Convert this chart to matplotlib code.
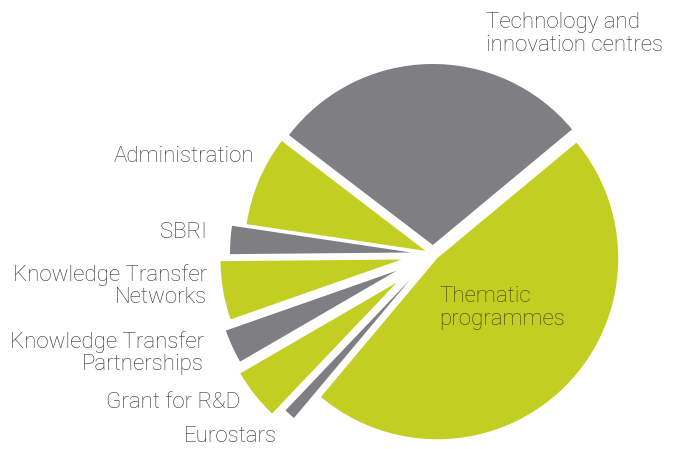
import matplotlib
matplotlib.use("Agg")
from matplotlib import pyplot as plt

labels = ["Thematic programmes", "Technology and innovation centres", "Administration", "SBRI",
          "Knowledge Transfer Networks", "Knowledge Transfer Partnerships", "Grant for R&D", "Eurostars"]
shares = [47.0, 28.5, 8.0, 2.5, 5.2, 3.0, 4.5, 1.0]
explode_px = [6, 9, 8, 22, 32, 40, 46, 34]

GREEN = "#c2cf22"
GREY = "#7f7e83"
colors = [GREEN, GREY, GREEN, GREY, GREEN, GREY, GREEN, GREY]

W, H = 676, 449
radius = 181
cx, cy = 433, H - 254

plt.rcParams["font.family"] = ["Roboto", "DejaVu Sans"]

fig = plt.figure(figsize=(W / 100, H / 100), dpi=100)
ax = fig.add_axes([0, 0, 1, 1])

# explode in pie() is in data units, here pixels
ax.pie(shares, colors=colors, startangle=-130, counterclock=True,
       radius=radius, center=(cx, cy), explode=explode_px,
       wedgeprops=dict(linewidth=0), frame=True)
ax.set_xlim(0, W)
ax.set_ylim(0, H)
ax.set_aspect("equal")
ax.axis("off")

txt = dict(fontsize=16, color="#333333", fontweight="light", linespacing=1.1)
ax.text(486, H - 34, "Technology and\ninnovation centres", ha="left", va="center", **txt)
ax.text(254, H - 157, "Administration", ha="right", va="center", **txt)
ax.text(207, H - 232, "SBRI", ha="right", va="center", **txt)
ax.text(207, H - 286, "Knowledge Transfer\nNetworks", ha="right", va="center", **txt)
ax.text(204, H - 353, "Knowledge Transfer\nPartnerships", ha="right", va="center", **txt)
ax.text(240, H - 402, "Grant for R&D", ha="right", va="center", **txt)
ax.text(277, H - 437, "Eurostars", ha="right", va="center", **txt)
ax.text(439, H - 308, "Thematic\nprogrammes", ha="left", va="center",
        fontsize=16, color="#3d4210", fontweight="light", linespacing=1.1)

fig.savefig("out.png", dpi=100)
